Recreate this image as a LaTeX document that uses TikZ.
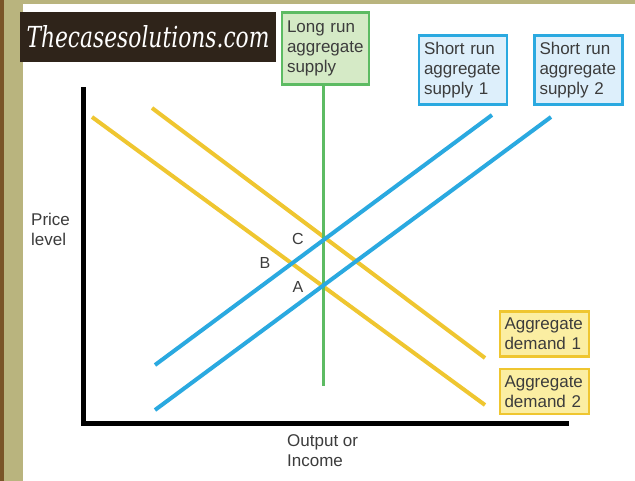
\documentclass[tikz,border=0pt]{standalone}
\usepackage{fontspec}
\usepackage{graphicx}
\setmainfont{Liberation Sans}
\newfontfamily\wmfont{DejaVu Serif}
\definecolor{brownedge}{HTML}{7A5528}
\definecolor{khaki}{HTML}{B9B47E}
\definecolor{wmbg}{HTML}{2F241A}
\definecolor{txt}{HTML}{3C3C3C}
\definecolor{grn}{HTML}{5DBB63}
\definecolor{grnfill}{HTML}{D5EAC6}
\definecolor{blu}{HTML}{2AA9E0}
\definecolor{blufill}{HTML}{DDEFFB}
\definecolor{yel}{HTML}{EFC630}
\definecolor{yelfill}{HTML}{FBEEA2}
\tikzset{
  lbl/.style={font=\fontsize{17}{20}\selectfont, text=txt, align=left},
  boxg/.style={lbl, draw=grn, fill=grnfill, line width=2.2pt, text width=77pt, minimum height=72pt, inner sep=5pt},
  boxb/.style={lbl, draw=blu, fill=blufill, line width=2.2pt, text width=78pt, minimum height=69pt, inner sep=5pt},
  boxy/.style={lbl, draw=yel, fill=yelfill, line width=2.2pt, text width=80pt, minimum height=45pt, inner sep=4.5pt},
  ptl/.style={font=\fontsize{16}{18}\selectfont, text=txt},
  sras/.style={blu, line width=4pt},
  ad/.style={yel, line width=4pt},
  axis/.style={black, line width=5pt},
}
\begin{document}
\begin{tikzpicture}[x=1pt,y=-1pt]
\useasboundingbox (0,0) rectangle (635,481);
\fill[white] (0,0) rectangle (635,481);
% border
\fill[khaki] (0,0) rectangle (635,4.5);
\fill[khaki] (0,0) rectangle (23,481);
\fill[brownedge] (0,0) rectangle (4,481);
% watermark
\node[fill=wmbg, minimum width=256pt, minimum height=50pt, inner sep=0pt, text=white] (wm) at (148,37) {\resizebox{243pt}{22pt}{\wmfont\itshape\fontsize{24}{28}\selectfont Thecasesolutions.com}};
% axes
\coordinate (ytop) at (83.5,90);
\coordinate (orig) at (83.5,423.5);
\coordinate (xend) at (566,423.5);
\draw[axis, line cap=rect] (ytop) -- (orig) -- (xend);
% boxes
\node[boxg] (lras) at (325.5,48.5) {Long run\\aggregate\\supply};
\node[boxb] (sras1) at (463,70) {Short run\\aggregate\\supply 1};
\node[boxb] (sras2) at (578.5,70) {Short run\\aggregate\\supply 2};
\node[boxy] (ad1) at (544.5,334) {Aggregate\\demand 1};
\node[boxy] (ad2) at (544.5,391.5) {Aggregate\\demand 2};
% curves
\coordinate (s1a) at (155,365); \coordinate (s1b) at (492,115);
\coordinate (s2a) at (155,410); \coordinate (s2b) at (551,117);
\coordinate (d1a) at (152,108); \coordinate (d1b) at (485,358);
\coordinate (d2a) at (92,117);  \coordinate (d2b) at (485,405);
\coordinate (lrtop) at (323,85); \coordinate (lrbot) at (323,386);
\draw[ad] (d1a) -- (d1b);
\draw[ad] (d2a) -- (d2b);
\draw[grn, line width=3pt] (lrtop) -- (lrbot);
\draw[sras] (s1a) -- (s1b);
\draw[sras] (s2a) -- (s2b);
% point labels
\node[ptl] (C) at (298,239) {C};
\node[ptl] (B) at (265,263) {B};
\node[ptl] (A) at (298,287) {A};
% axis labels
\node[lbl, anchor=north west, inner sep=0pt] (price) at (31,213) {Price\\level};
\node[lbl, anchor=north west, inner sep=0pt] (output) at (287,434) {Output or\\Income};
\end{tikzpicture}
\end{document}
